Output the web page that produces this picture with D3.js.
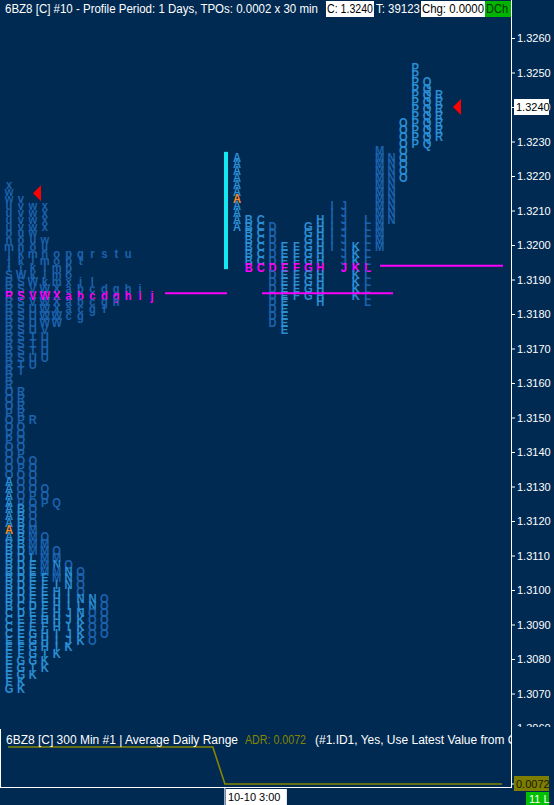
<!DOCTYPE html>
<html><head><meta charset="utf-8">
<script src="https://cdn.jsdelivr.net/npm/d3@7"></script>
<style>html,body{margin:0;padding:0;background:#012a52;overflow:hidden}</style>
</head><body><svg id="c" width="554" height="805"></svg>
<script>
// ---------- DATA ----------
const priceTicks = [1.3260,1.3250,1.3240,1.3230,1.3220,1.3210,1.3200,1.3190,1.3180,1.3170,1.3160,1.3150,1.3140,1.3130,1.3120,1.3110,1.3100,1.3090,1.3080,1.3070,1.3060];
const lastPrice = 1.3240;

// current day (split profile: one column per 30-min period)
const curLetters = ["A","B","C","D","E","F","G","H","I","J","K","L","M","N","O","P","Q","R"];
const curHigh = [1.3226,1.3208,1.3208,1.3206,1.3200,1.3200,1.3206,1.3208,1.3212,1.3212,1.3200,1.3208,1.3228,1.3226,1.3236,1.3252,1.3248,1.3244];
const curLow  = [1.3206,1.3194,1.3194,1.3178,1.3176,1.3186,1.3186,1.3184,1.3200,1.3194,1.3186,1.3184,1.3200,1.3208,1.3220,1.3230,1.3230,1.3232];
const curPOC = 1.3194, curOpen = 1.3214, ibHigh = 1.3227, ibLow = 1.3193;

// prior day (collapsed profile: TPO letters per price row)
const leftPrices = [1.3218,1.3216,1.3214,1.3212,1.3210,1.3208,1.3206,1.3204,1.3202,1.3200,1.3198,1.3196,1.3194,1.3192,1.3190,1.3188,1.3186,1.3184,1.3182,1.3180,1.3178,1.3176,1.3174,1.3172,1.3170,1.3168,1.3166,1.3164,1.3162,1.3160,
 1.3158,1.3156,1.3154,1.3152,1.3150,1.3148,1.3146,1.3144,1.3142,1.3140,1.3138,1.3136,1.3134,1.3132,1.3130,1.3128,1.3126,1.3124,1.3122,1.3120,1.3118,1.3116,1.3114,1.3112,1.3110,1.3108,1.3106,1.3104,1.3102,1.3100,1.3098,1.3096,1.3094,1.3092,1.3090,1.3088,1.3086,1.3084,1.3082,1.3080,1.3078,1.3076,1.3074,1.3072];
const leftRows = ["x","w","wv","uvwx","uvwx","uvwx","uvwx","ouw","nouw","mnou","jkmnopqrstu","jklmopt","ijklmp","SWklmo","RSWkmxil","RSVWXabcdghi","RSVWXabcdghij","RSVWXabcgh","RSUWXacgi","RSUWWcg","RSUWW","RSUV","RSTU","RSTU","RSTU","RSUU","RTU","RT","R","R",
 "OR","OR","OR","PR","OPR","OO","PO","PO","OO","OP","OOO","OPO","OOO","AOO","AOOO","AOPO","APOPQ","ABO","ABO","ABO","ABM","ABMO","BBMM","BDMMO","BDLMM","BDEMNO","BDEMMNO","BDEFMNO","BDEFINO","BDEEHIO","BDEEHINNO","BCDFHILNO","CDEEHJNOO","CEFHHJKOO","CEEFHIKOO","CEGHIJKOO","EEGHIJKO","EFGHIK","EFGIK","EGGK","EGIK","EGK","FK","GK"];
const leftPOC = 1.3186, leftOpen = 1.3118, leftMarker = 1.3215;

// lower study pane: Average Daily Range
const adrIdx = [0,17,18,41];
const adrVal = [0.0080,0.0080,0.0072,0.0072];
const timeLabel = "10-10  3:00", timeIdx = 18;

// ---------- DRAW ----------
const W=554,H=805, BG="#012a52";
const light="#2b8dd3", dark="#1c62ad", mag="#ff00ff", orange="#ff8c1a";
const svg=d3.select("#c");
svg.append("rect").attr("width",W).attr("height",H).attr("fill",BG);

const defs=svg.append("defs");
defs.append("clipPath").attr("id","main").append("rect").attr("x",0).attr("y",0).attr("width",511).attr("height",729);
defs.append("clipPath").attr("id","axisclip").append("rect").attr("x",0).attr("y",18).attr("width",60).attr("height",709);
defs.append("clipPath").attr("id","low").append("rect").attr("x",0).attr("y",729).attr("width",511).attr("height",60);

const y=d3.scaleLinear().domain([1.3060,1.3260]).range([728,38]);
const xL=d3.scaleLinear().domain([0,12]).range([9,152]);
const xC=d3.scaleLinear().domain([0,17]).range([237,439]);

const plot=svg.append("g").attr("clip-path","url(#main)");
const FONT="'Liberation Sans', Arial, sans-serif";

function letter(g,x,yy,ch,col){
  g.append("text").attr("transform",`translate(${x},${yy+2}) scale(0.86,1)`)
   .attr("text-anchor","middle").attr("dominant-baseline","central")
   .attr("font-family",FONT).attr("font-size",13).attr("font-weight","bold").attr("fill",col).text(ch);
}

// prior-day profile
const leftLight=new Set("ABCDEFGHIJKLN".split(""));
const gl=plot.append("g");
leftPrices.forEach((p,ri)=>{
  const s=leftRows[ri];
  for(let i=0;i<s.length;i++){
    let col = leftLight.has(s[i])?light:dark;
    if(Math.abs(p-leftPOC)<1e-6) col=mag;
    if(Math.abs(p-leftOpen)<1e-6 && i===0) col=orange;
    letter(gl,xL(i),y(p),s[i],col);
  }
});

// current-day profile
const curLight=new Set("ABCEFGHKOPQR".split(""));
const gc=plot.append("g");
curLetters.forEach((L,i)=>{
  const n=Math.round((curHigh[i]-curLow[i])/0.0002);
  for(let k=0;k<=n;k++){
    const p=curHigh[i]-k*0.0002;
    let col=curLight.has(L)?light:dark;
    if(Math.abs(p-curPOC)<1e-6) col=mag;
    if(L==="A" && Math.abs(p-curOpen)<1e-6) col=orange;
    letter(gc,xC(i),y(p),L,col);
  }
});

// magenta POC lines
const pocLines=[[leftPOC,165,227],[leftPOC,262,393],[curPOC,380,503]];
plot.selectAll("line.poc").data(pocLines).enter().append("line")
  .attr("x1",d=>d[1]).attr("x2",d=>d[2]).attr("y1",d=>y(d[0])).attr("y2",d=>y(d[0]))
  .attr("stroke",mag).attr("stroke-width",2);

// initial balance bar
plot.append("rect").attr("x",224).attr("width",4).attr("y",y(ibHigh)).attr("height",y(ibLow)-y(ibHigh)).attr("fill","#14e6f2");

// red markers
function tri(xTip,p){
  const yy=y(p);
  plot.append("path").attr("d",`M${xTip},${yy} L${xTip+8},${yy-8} L${xTip+8},${yy+8} Z`).attr("fill","#ff0000");
}
tri(33,leftMarker); tri(453,lastPrice);

// price axis
const ax=svg.append("g").attr("transform","translate(511,0)").attr("clip-path","url(#axisclip)")
  .call(d3.axisRight(y).tickValues(priceTicks).tickSize(4).tickPadding(2).tickFormat(d3.format(".4f")));
ax.select(".domain").remove();
ax.selectAll("line").attr("stroke","#fff");
ax.selectAll("text").attr("fill","#fff").attr("font-family",FONT).attr("font-size",11);
svg.append("line").attr("x1",511.5).attr("x2",511.5).attr("y1",0).attr("y2",788).attr("stroke","#fff");

// last price box
svg.append("rect").attr("x",514).attr("y",y(lastPrice)-8).attr("width",35).attr("height",16).attr("fill","#fff");
svg.append("text").attr("x",516).attr("y",y(lastPrice)).attr("dominant-baseline","central").attr("font-family",FONT).attr("font-size",11).attr("fill","#000").text(d3.format(".4f")(lastPrice));

// header
const hdr=svg.append("g").attr("font-family",FONT).attr("font-size",12);
function htext(x,t,col,len){
  const e=hdr.append("text").attr("x",x).attr("y",9).attr("dominant-baseline","central").attr("fill",col).text(t);
  if(len) e.attr("textLength",len).attr("lengthAdjust","spacingAndGlyphs");
}
htext(5,"6BZ8 [C]  #10 - Profile Period: 1 Days, TPOs: 0.0002 x 30 min","#fff",313);
hdr.append("rect").attr("x",326).attr("y",1).attr("width",48).attr("height",16).attr("fill","#fff");
htext(327,"C: 1.3240","#000",46);
htext(376,"T: 39123","#fff",44);
hdr.append("rect").attr("x",421).attr("y",1).attr("width",64).attr("height",16).attr("fill","#fff");
htext(422,"Chg: 0.0000","#000",62);
hdr.append("rect").attr("x",485).attr("y",1).attr("width",26).attr("height",16).attr("fill","#00b400");
htext(486,"DCh","#003000",22);

// lower pane
const low=svg.append("g");
low.append("rect").attr("x",0).attr("y",729).attr("width",511).attr("height",59).attr("fill",BG);
low.append("line").attr("x1",0.5).attr("x2",0.5).attr("y1",729).attr("y2",788).attr("stroke","#fff");
low.append("line").attr("x1",0).attr("x2",511).attr("y1",787.5).attr("y2",787.5).attr("stroke","#fff");
const xA=d3.scaleLinear().domain([0,41]).range([8,502]);
const yA=d3.scaleLinear().domain([0.0072,0.0080]).range([784,747]);
const lg=low.append("g").attr("clip-path","url(#low)");
lg.append("path").datum(adrIdx.map((d,i)=>[d,adrVal[i]]))
  .attr("d",d3.line().x(d=>xA(d[0])).y(d=>yA(d[1]))).attr("fill","none").attr("stroke","#858500").attr("stroke-width",1.6);
function ltext(x,t,col,len){
  const e=lg.append("text").attr("x",x).attr("y",740).attr("dominant-baseline","central").attr("font-family",FONT).attr("font-size",12).attr("fill",col).text(t);
  if(len) e.attr("textLength",len).attr("lengthAdjust","spacingAndGlyphs");
}
ltext(6,"6BZ8 [C]  300 Min   #1 | Average Daily Range","#fff",232);
ltext(245,"ADR: 0.0072","#858500",61);
ltext(315,"(#1.ID1, Yes, Use Latest Value from Chart)","#fff",226);
svg.append("line").attr("x1",511).attr("x2",515).attr("y1",yA(0.0072)).attr("y2",yA(0.0072)).attr("stroke","#fff");
svg.append("rect").attr("x",514).attr("y",yA(0.0072)-8).attr("width",35).attr("height",15).attr("fill","#7d7d00");
svg.append("text").attr("x",516).attr("y",yA(0.0072)).attr("dominant-baseline","central").attr("font-family",FONT).attr("font-size",11).attr("fill","#1a1a00").text("0.0072");
svg.append("rect").attr("x",526).attr("y",792).attr("width",23).attr("height",13).attr("fill","#00c000");
svg.append("text").attr("x",529).attr("y",799).attr("dominant-baseline","central").attr("font-family",FONT).attr("font-size",11).attr("fill","#fff").text("11 L");

// time axis
const tx=xA(timeIdx);
svg.append("line").attr("x1",tx).attr("x2",tx).attr("y1",788).attr("y2",805).attr("stroke","#fff");
svg.append("rect").attr("x",tx+1).attr("y",789).attr("width",61).attr("height",16).attr("fill","#fff");
svg.append("text").attr("x",tx+3).attr("y",797).attr("dominant-baseline","central").attr("font-family",FONT).attr("font-size",11).attr("fill","#000").text(timeLabel);
</script></body></html>
